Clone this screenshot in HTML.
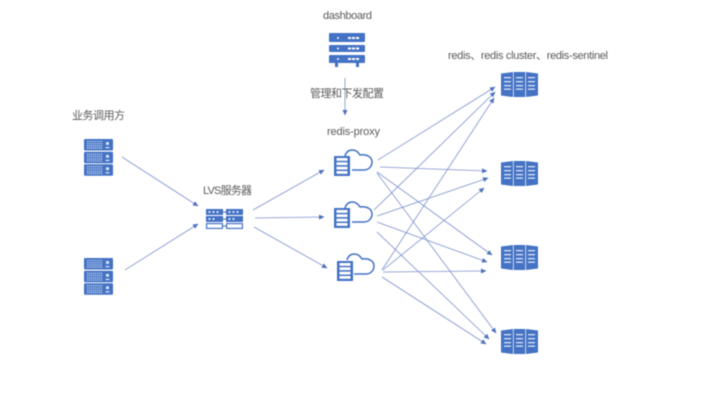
<!DOCTYPE html>
<html>
<head>
<meta charset="utf-8">
<style>
html,body{margin:0;padding:0;background:#fff;width:720px;height:404px;overflow:hidden}
svg{display:block;filter:blur(.4px)}
text{font-family:"Liberation Sans","Noto Sans CJK SC",sans-serif;font-size:11px;fill:#5a5a5a}
.l line{stroke:#7c90cc;stroke-width:.8;marker-end:url(#a)}
</style>
</head>
<body>
<svg width="720" height="404" viewBox="0 0 720 404" xmlns="http://www.w3.org/2000/svg">
<defs>
<marker id="a" markerWidth="7" markerHeight="6" refX="5" refY="2.5" orient="auto" markerUnits="userSpaceOnUse">
<path d="M0 0L5.5 2.5L0 5Z" fill="#4f72bd"/>
</marker>
<g id="srow">
<rect x="0" y="0" width="29" height="11.500" rx="1" fill="#4472c4"/>
<path d="M3 2.500H19M3 4.800H19M3 7.100H19M3 9.200H19" stroke="#dbe4f5" stroke-width="1.100" stroke-dasharray="1.200 .8"/>
<circle cx="23.500" cy="4.500" r="1.600" fill="#dfe7f5"/>
<rect x="21.500" y="8" width="4" height="1.200" fill="#dfe7f5"/>
</g>
<g id="srv3">
<use href="#srow"/>
<use href="#srow" y="12.800"/>
<use href="#srow" y="25.200"/>
</g>
<g id="rack">
<rect x="0" y="0" width="16" height="20" fill="#4472c4"/>
<rect x="2.500" y="2" width="11" height="2.800" fill="#fff"/>
<rect x="2.500" y="6.300" width="11" height="2.800" fill="#fff"/>
<rect x="2.500" y="10.700" width="11" height="2.800" fill="#fff"/>
<rect x="2.500" y="15" width="11" height="2.800" fill="#fff"/>
</g>
<path id="cloud" d="M0 6C1 2 4 0 7 0C11 0 13 2 15 5C22 4 27 7 27 12C27 17 23 20 19 20H7" fill="none" stroke="#4472c4" stroke-width="1.500"/>
<g id="rd">
<path d="M0 1.500L12 0V25L0 23.500Z" fill="#4472c4"/>
<rect x="12.700" y="0" width="11.600" height="25" fill="#4472c4"/>
<path d="M25 0L37 1.500V23.500L25 25Z" fill="#4472c4"/>
<g fill="#dbe5f6">
<rect x="3" y="5" width="7" height="1.300"/><rect x="3" y="9" width="7" height="1.300"/><rect x="3" y="13" width="7" height="1.300"/><rect x="3" y="16.500" width="7" height="1.300"/>
<rect x="15" y="5" width="7" height="1.300"/><rect x="15" y="9" width="7" height="1.300"/><rect x="15" y="13" width="7" height="1.300"/><rect x="15" y="16.500" width="7" height="1.300"/>
<rect x="27" y="5" width="7" height="1.300"/><rect x="27" y="9" width="7" height="1.300"/><rect x="27" y="13" width="7" height="1.300"/><rect x="27" y="16.500" width="7" height="1.300"/>
</g>
</g>
<g id="lv">
<rect width="17" height="6" fill="#4472c4"/>
<rect y="7" width="17" height="6" fill="#4472c4"/>
<rect x=".6" y="14.600" width="15.800" height="4.800" fill="#fff" stroke="#4472c4" stroke-width="1.200"/>
<g fill="#fff"><circle cx="3.500" cy="3" r="1"/><circle cx="7.500" cy="3" r="1"/><circle cx="11.500" cy="3" r="1"/><circle cx="3.500" cy="10" r="1"/><circle cx="7.500" cy="10" r="1"/></g>
</g>
</defs>

<text x="323" y="19" textLength="49">dashboard</text>
<text x="448" y="59" textLength="160">redis、redis cluster、redis-sentinel</text>
<text x="72" y="119" textLength="53">业务调用方</text>
<text x="327" y="135" textLength="53">redis-proxy</text>
<text x="203" y="194" textLength="49">LVS服务器</text>

<g class="l">
<line x1="345" y1="78" x2="345" y2="115"/>
<line x1="122" y1="157" x2="198" y2="206"/>
<line x1="125" y1="270" x2="198" y2="224"/>
<line x1="253" y1="210" x2="324" y2="170"/>
<line x1="255" y1="218" x2="324" y2="217"/>
<line x1="254" y1="227" x2="327" y2="268"/>
<line x1="378" y1="160" x2="495" y2="87"/>
<line x1="380" y1="167" x2="487" y2="171"/>
<line x1="377" y1="172" x2="492" y2="255"/>
<line x1="377" y1="173" x2="496" y2="333"/>
<line x1="374" y1="210" x2="495" y2="92"/>
<line x1="377" y1="216" x2="488" y2="178"/>
<line x1="377" y1="222" x2="487" y2="262"/>
<line x1="377" y1="232" x2="489" y2="339"/>
<line x1="382" y1="270" x2="494" y2="98"/>
<line x1="383" y1="270" x2="484" y2="188"/>
<line x1="383" y1="272" x2="486" y2="271"/>
<line x1="382" y1="277" x2="486" y2="344"/>
</g>
<text x="310" y="97" textLength="74">管理和下发配置</text>

<g fill="#4472c4">
<rect x="329" y="33" width="36" height="9" rx="1"/>
<rect x="329" y="45" width="36" height="7" rx="1"/>
<rect x="329" y="55" width="36" height="8" rx="1"/>
<rect x="335" y="63" width="3" height="4"/>
<rect x="356" y="63" width="3" height="4"/>
</g>
<g fill="#fff">
<circle cx="338" cy="38" r="1"/><rect x="348" y="37" width="3" height="2"/><rect x="352" y="37" width="3" height="2"/><rect x="356" y="37" width="3" height="2"/>
<circle cx="338" cy="48.500" r="1"/><rect x="348" y="47.500" width="3" height="2"/><rect x="352" y="47.500" width="3" height="2"/><rect x="356" y="47.500" width="3" height="2"/>
<circle cx="338" cy="59" r="1"/><rect x="348" y="58" width="3" height="2"/><rect x="352" y="58" width="3" height="2"/><rect x="356" y="58" width="3" height="2"/>
</g>

<use href="#srv3" x="84" y="139"/>
<use href="#srv3" x="84" y="258"/>

<use href="#lv" x="206" y="209"/>
<use href="#lv" x="226" y="209"/>
<path d="M223 212H226M223 219H226M223 226H226" stroke="#4472c4" stroke-width="1"/>

<use href="#cloud" x="345" y="150"/>
<use href="#rack" x="334" y="156"/>
<use href="#cloud" x="345" y="202"/>
<use href="#rack" x="334" y="208"/>
<use href="#cloud" x="347" y="254"/>
<use href="#rack" x="337" y="261"/>

<use href="#rd" x="501" y="72"/>
<use href="#rd" x="501" y="161"/>
<use href="#rd" x="501" y="245"/>
<use href="#rd" x="501" y="329"/>
</svg>
</body>
</html>
